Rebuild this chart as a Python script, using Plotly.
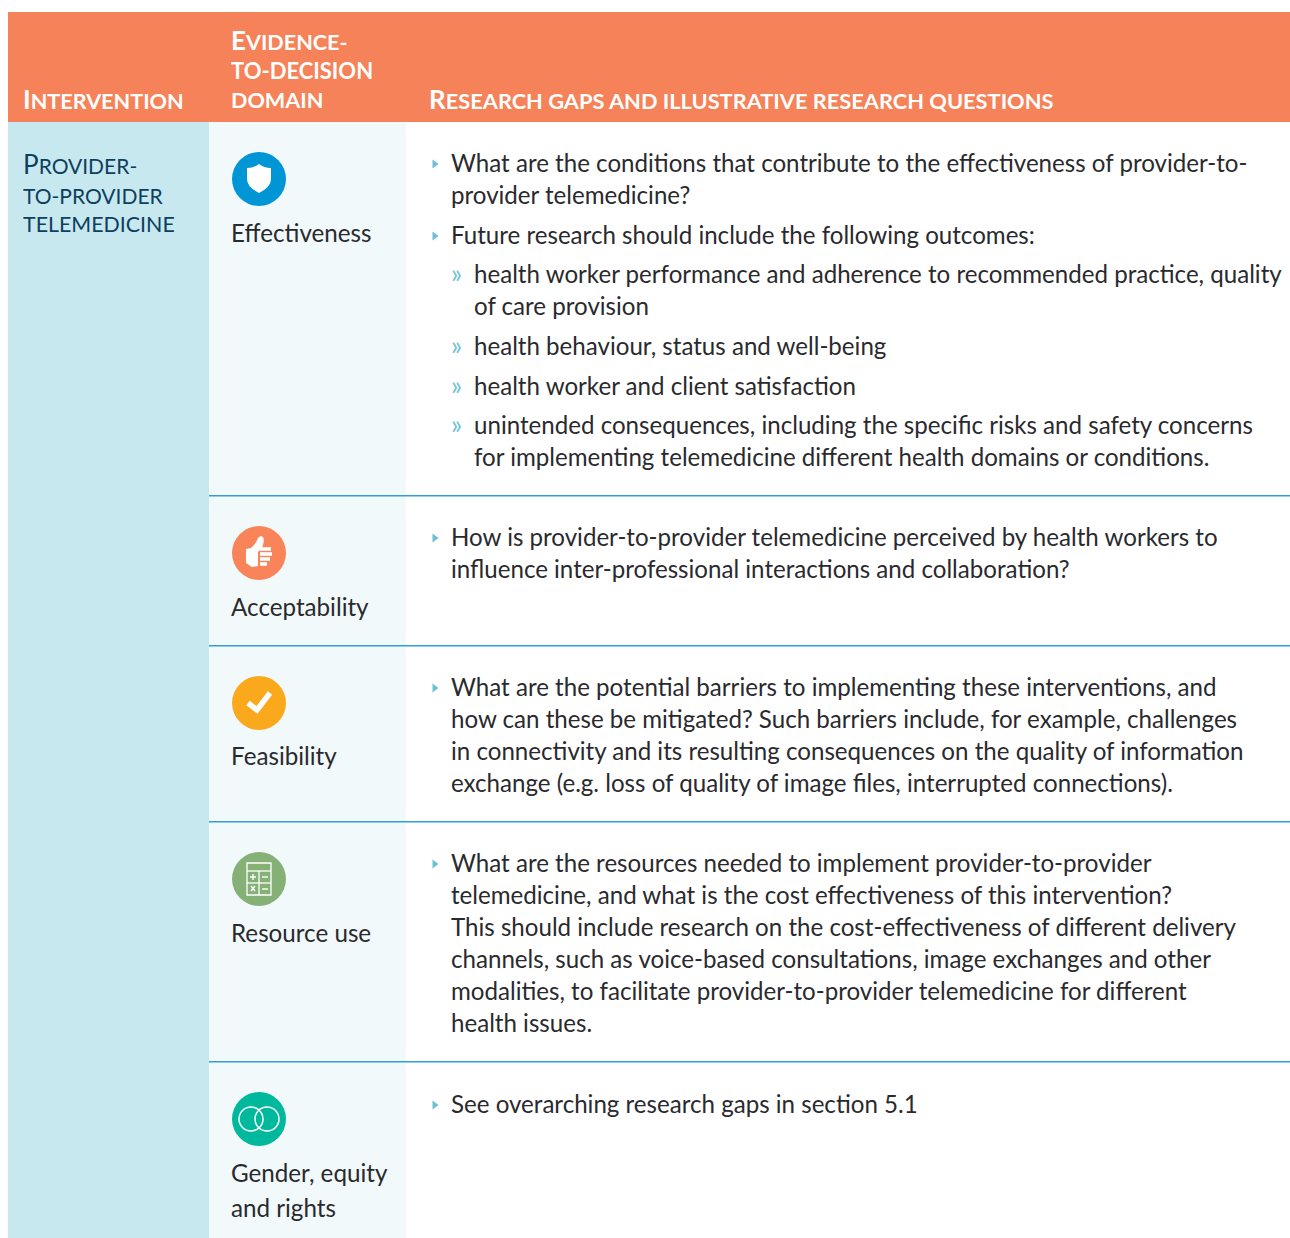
import plotly.graph_objects as go

FONT = "Lato"
INK = "#2a2a2e"
NAVY = "#0d3f5e"
ORANGE = "#F58258"
LIGHT = "#C8E8EF"
PALE = "#F1F9FB"
RULE = "#2F9FD6"
BUL = "#6FBFD4"

SEPARATORS = [495, 645, 821, 1061]

HEADER_1 = ["<b>I<span style='font-size:21.6px'>NTERVENTION</span></b>"]
HEADER_2 = ["<b>E<span style='font-size:21.6px'>VIDENCE-</span></b>",
            "<b><span style='font-size:22px'>TO-DECISION</span></b>",
            "<b><span style='font-size:21.6px'>DOMAIN</span></b>"]
HEADER_3 = ["<b>R<span style='font-size:21.8px'>ESEARCH GAPS AND ILLUSTRATIVE RESEARCH QUESTIONS</span></b>"]
INTERVENTION = ["P<span style='font-size:21px'>ROVIDER-</span>",
                "<span style='font-size:21px'>TO-PROVIDER</span>",
                "<span style='font-size:21.4px'>TELEMEDICINE</span>"]

DOMAINS = [("Effectiveness", 232), ("Acceptability", 606), ("Feasibility", 755),
           ("Resource use", 932), ("Gender, equity", 1172), ("and rights", 1207)]

# (level, bullet?, y, text) level 0 = question, level 1 = sub-item
LINES = [
    (0, True, 162, "What are the conditions that contribute to the effectiveness of provider-to-"),
    (0, False, 194, "provider telemedicine?"),
    (0, True, 234, "Future research should include the following outcomes:"),
    (1, True, 273, "health worker performance and adherence to recommended practice, quality"),
    (1, False, 305, "of care provision"),
    (1, True, 345, "health behaviour, status and well-being"),
    (1, True, 385, "health worker and client satisfaction"),
    (1, True, 424, "unintended consequences, including the specific risks and safety concerns"),
    (1, False, 456, "for implementing telemedicine different health domains or conditions."),
    (0, True, 536, "How is provider-to-provider telemedicine perceived by health workers to"),
    (0, False, 568, "influence inter-professional interactions and collaboration?"),
    (0, True, 686, "What are the potential barriers to implementing these interventions, and"),
    (0, False, 718, "how can these be mitigated? Such barriers include, for example, challenges"),
    (0, False, 750, "in connectivity and its resulting consequences on the quality of information"),
    (0, False, 782, "exchange (e.g. loss of quality of image files, interrupted connections)."),
    (0, True, 862, "What are the resources needed to implement provider-to-provider"),
    (0, False, 894, "telemedicine, and what is the cost effectiveness of this intervention?"),
    (0, False, 926, "This should include research on the cost-effectiveness of different delivery"),
    (0, False, 958, "channels, such as voice-based consultations, image exchanges and other"),
    (0, False, 990, "modalities, to facilitate provider-to-provider telemedicine for different"),
    (0, False, 1022, "health issues."),
    (0, True, 1103, "See overarching research gaps in section 5.1"),
]

ICONS = [(179, "#0096D6"), (553, "#F9845A"), (703, "#FBA91C"), (879, "#86B176"), (1119, "#00B89C")]

shapes, ann = [], []


def rect(x0, y0, x1, y1, c):
    shapes.append(dict(type="rect", x0=x0, x1=x1, y0=y0, y1=y1, fillcolor=c, line_width=0, layer="below"))


def text(x, y, s, size, color):
    ann.append(dict(x=x, y=y, text=s, xref="x", yref="y", xanchor="left", yanchor="middle", showarrow=False,
                    align="left", font=dict(family=FONT, size=size, color=color), borderpad=0, borderwidth=0))


rect(8, 122, 209, 1238, LIGHT)
rect(209, 122, 406, 1238, PALE)
rect(8, 12, 1290, 122, ORANGE)
for y in SEPARATORS:
    shapes.append(dict(type="rect", x0=209, x1=1290, y0=y, y1=y + 1.4, fillcolor=RULE, line_width=0))

text(23, 99, HEADER_1[0], 26, "white")
for y, s in zip([40, 70, 99.5], HEADER_2):
    text(231, y, s, 26, "white")
text(429, 99, HEADER_3[0], 26, "white")
for y, s in zip([164, 195, 224], INTERVENTION):
    text(23, y, s, 26, NAVY)

for s, y in DOMAINS:
    text(231, y, s, 24.2, INK)

bx, by = [], []
for level, bullet, y, s in LINES:
    text(474 if level else 451, y, s, 24.12, INK)
    if bullet:
        if level:
            text(451, y, "»", 26, BUL)
        else:
            bx.append(434.5)
            by.append(y + 2)

for y, c in ICONS:
    shapes.append(dict(type="circle", x0=232, x1=286, y0=y - 27, y1=y + 27, fillcolor=c, line_width=0))


def P(d, fill="white", lw=0, lc="white"):
    shapes.append(dict(type="path", path=d, fillcolor=fill, line=dict(width=lw, color=lc)))


# shield
P("M 247 168 Q 254 168 259 164 Q 264 168 271 168 L 271 179 Q 271 187 259 193 Q 247 187 247 179 Z")
# thumb
P("M 246 549 L 251 548 Q 256 544 258 538 Q 260 535 263 537 Q 265 540 262 548 L 258 552 L 258 566 L 252 567 L 246 563 Z")
for yy, x1 in [(549, 271), (554, 272), (559, 270), (564, 267)]:
    shapes.append(dict(type="line", x0=260, x1=x1, y0=yy, y1=yy, line=dict(color="white", width=3.6)))
# tick
shapes.append(dict(type="path", path="M 248 703 L 257 710 L 270 693", line=dict(color="white", width=5.5)))
# calculator
shapes.append(dict(type="rect", x0=247, x1=271, y0=863, y1=895, line=dict(color="white", width=1.3)))
for a in ["M 247 871 L 271 871", "M 247 883 L 271 883", "M 259 871 L 259 895"]:
    shapes.append(dict(type="path", path=a, line=dict(color="white", width=1.3)))
for a in ["M 250 877 L 256 877 M 253 874 L 253 880", "M 262 877 L 268 877",
          "M 251 886 L 255 891 M 255 886 L 251 891", "M 262 889 L 268 889"]:
    shapes.append(dict(type="path", path=a, line=dict(color="white", width=1.4)))
# rings
for x0, x1 in [(239, 263), (255, 279)]:
    shapes.append(dict(type="circle", x0=x0, x1=x1, y0=1107, y1=1131, line=dict(color="white", width=1.5)))

fig = go.Figure(go.Scatter(x=bx, y=by, mode="markers", hoverinfo="skip",
                           marker=dict(symbol="triangle-right", size=8, color=BUL, line_width=0)))
fig.update_layout(width=1290, height=1238, margin=dict(l=0, r=0, t=0, b=0), showlegend=False,
                  paper_bgcolor="white", plot_bgcolor="white", shapes=shapes, annotations=ann,
                  xaxis=dict(range=[0, 1290], visible=False, fixedrange=True),
                  yaxis=dict(range=[1238, 0], visible=False, fixedrange=True))
fig.write_html("out.html", config=dict(displayModeBar=False),
               post_script="document.documentElement.style.margin='0';document.body.style.margin='0';document.body.style.padding='0';")
